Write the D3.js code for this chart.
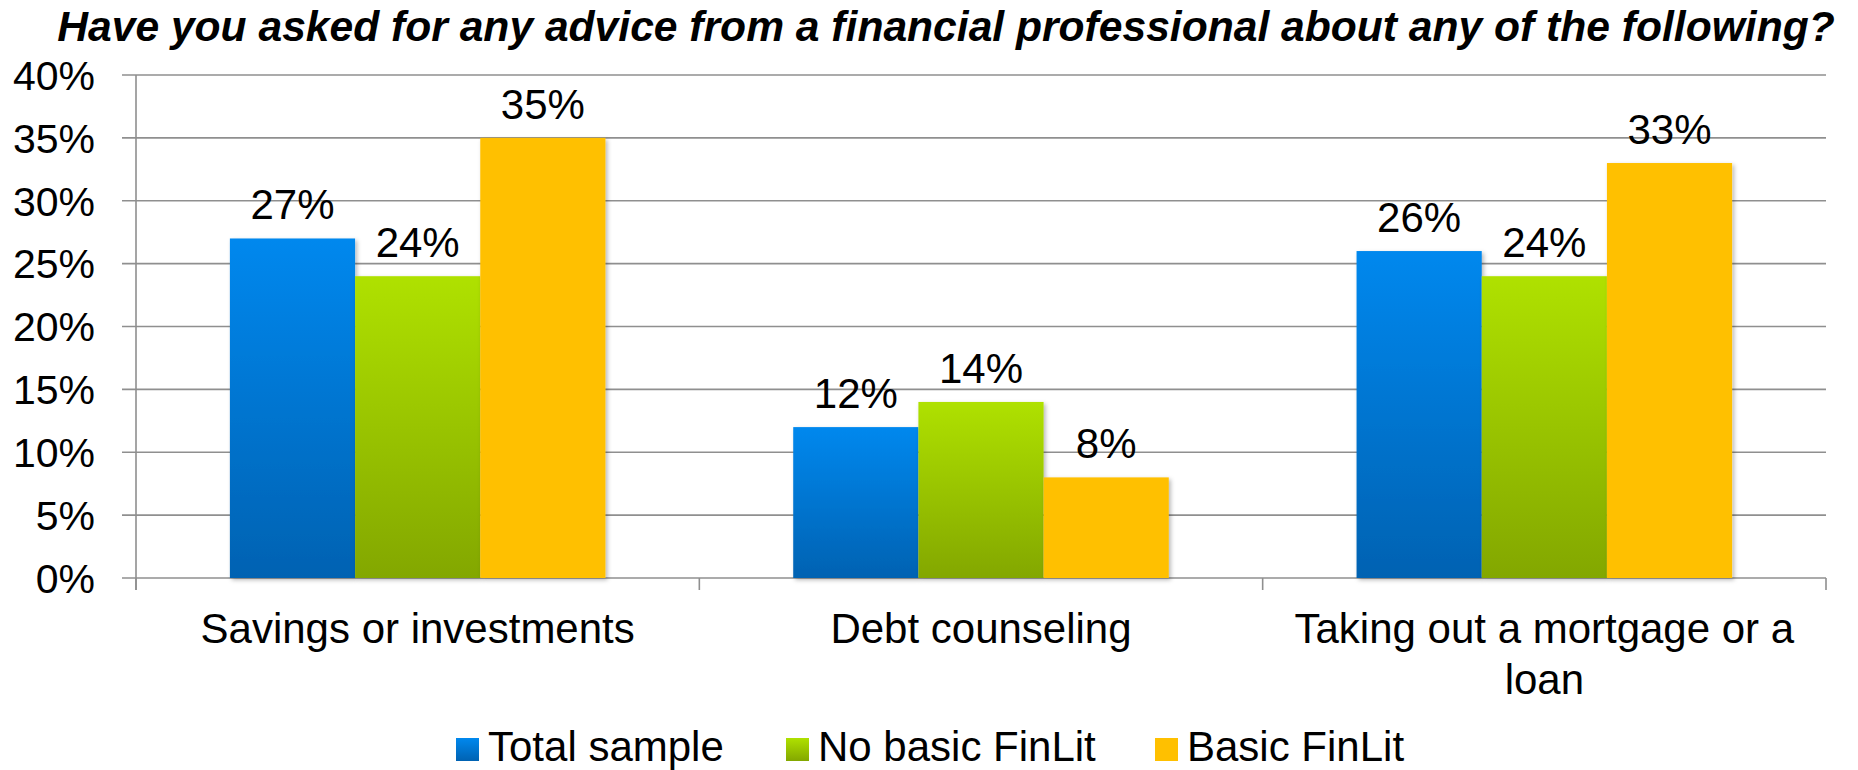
<!DOCTYPE html>
<html>
<head>
<meta charset="utf-8">
<script src="https://cdn.jsdelivr.net/npm/d3@7"></script>
<style>
  html, body { margin: 0; padding: 0; background: #fff; }
  svg { display: block; font-family: "Liberation Sans", Arial, sans-serif; }
</style>
</head>
<body>
<svg id="chart" width="1858" height="770"></svg>
<script>
// Survey answers, share of respondents per group
const categories = ["Savings or investments", "Debt counseling", "Taking out a mortgage or a loan"];
const seriesNames = ["Total sample", "No basic FinLit", "Basic FinLit"];
const totalSample = [0.27, 0.12, 0.26];
const noBasicFinLit = [0.24, 0.14, 0.24];
const basicFinLit = [0.35, 0.08, 0.33];
const yTicks = [0, 0.05, 0.10, 0.15, 0.20, 0.25, 0.30, 0.35, 0.40];
const title = "Have you asked for any advice from a financial professional about any of the following?";

const seriesValues = [totalSample, noBasicFinLit, basicFinLit];

const W = 1858, H = 770;
const plot = { left: 136, right: 1826, top: 75, bottom: 578 };

const svg = d3.select("#chart");
const defs = svg.append("defs");

// Vertical gradients for the first two series, flat fill for the third
function vGrad(id, top, bottom) {
  const g = defs.append("linearGradient").attr("id", id)
    .attr("x1", 0).attr("y1", 0).attr("x2", 0).attr("y2", 1);
  g.append("stop").attr("offset", "0%").attr("stop-color", top);
  g.append("stop").attr("offset", "100%").attr("stop-color", bottom);
}
vGrad("gBlue", "#0088ee", "#0062b2");
vGrad("gGreen", "#afe100", "#83a700");
vGrad("gYellow", "#ffc000", "#ffc000");
const fills = ["url(#gBlue)", "url(#gGreen)", "url(#gYellow)"];

const shadow = defs.append("filter").attr("id", "barShadow")
  .attr("x", "-10%").attr("y", "-10%").attr("width", "130%").attr("height", "130%");
shadow.append("feDropShadow").attr("dx", 2).attr("dy", 2).attr("stdDeviation", 2)
  .attr("flood-color", "#000").attr("flood-opacity", 0.28);

const y = d3.scaleLinear().domain([0, 0.40]).range([plot.bottom, plot.top]);
const x0 = d3.scaleBand().domain(categories).range([plot.left, plot.right]).paddingInner(0).paddingOuter(0);
const x1 = d3.scaleBand().domain(seriesNames).range([0, x0.bandwidth()]).paddingInner(0).paddingOuter(0.75);

const pct = d3.format(".0%");

// Horizontal gridlines (extend left past the axis as tick marks)
svg.append("g").selectAll("line").data(yTicks).join("line")
  .attr("x1", plot.left - 14).attr("x2", plot.right)
  .attr("y1", d => y(d)).attr("y2", d => y(d))
  .attr("stroke", "#8f8f8f").attr("stroke-width", 1.6);

// Y axis line
svg.append("line")
  .attr("x1", plot.left).attr("x2", plot.left)
  .attr("y1", plot.top).attr("y2", plot.bottom + 12)
  .attr("stroke", "#8f8f8f").attr("stroke-width", 1.6);

// Category boundary ticks below the baseline
const boundaries = categories.map(c => x0(c)).concat([plot.right]);
svg.append("g").selectAll("line").data(boundaries).join("line")
  .attr("x1", d => d).attr("x2", d => d)
  .attr("y1", plot.bottom).attr("y2", plot.bottom + 12)
  .attr("stroke", "#8f8f8f").attr("stroke-width", 1.6);

// Y tick labels
svg.append("g").selectAll("text").data(yTicks).join("text")
  .attr("x", 95).attr("y", d => y(d)).attr("dy", "0.36em")
  .attr("text-anchor", "end").attr("font-size", 41).attr("fill", "#000")
  .text(d => pct(d));

// Bars
const groups = svg.append("g").selectAll("g").data(categories).join("g")
  .attr("transform", d => `translate(${x0(d)},0)`);

groups.selectAll("rect")
  .data((c, ci) => seriesNames.map((s, si) => ({ s, si, v: seriesValues[si][ci] })))
  .join("rect")
  .attr("x", d => x1(d.s)).attr("width", x1.bandwidth())
  .attr("y", d => y(d.v)).attr("height", d => y(0) - y(d.v))
  .attr("fill", d => fills[d.si])
  .attr("filter", "url(#barShadow)");

// Value labels above bars
groups.selectAll("text.val")
  .data((c, ci) => seriesNames.map((s, si) => ({ s, si, v: seriesValues[si][ci] })))
  .join("text").attr("class", "val")
  .attr("x", d => x1(d.s) + x1.bandwidth() / 2)
  .attr("y", d => y(d.v) - 19)
  .attr("text-anchor", "middle").attr("font-size", 42).attr("fill", "#000")
  .text(d => pct(d.v));

// Category labels, wrapped to the band width
const catLabels = svg.append("g").selectAll("text").data(categories).join("text")
  .attr("x", d => x0(d) + x0.bandwidth() / 2)
  .attr("y", 643)
  .attr("text-anchor", "middle").attr("font-size", 42).attr("fill", "#000");

catLabels.each(function (d) {
  const t = d3.select(this);
  const cx = x0(d) + x0.bandwidth() / 2;
  const words = d.split(" ");
  let line = [];
  let tspan = t.append("tspan").attr("x", cx).attr("dy", 0);
  for (const w of words) {
    line.push(w);
    tspan.text(line.join(" "));
    if (tspan.node().getComputedTextLength() > 530 && line.length > 1) {
      line.pop();
      tspan.text(line.join(" "));
      line = [w];
      tspan = t.append("tspan").attr("x", cx).attr("dy", 51).text(w);
    }
  }
});

// Legend
const legendX = [456, 786, 1155];
const legend = svg.append("g").selectAll("g").data(seriesNames).join("g")
  .attr("transform", (d, i) => `translate(${legendX[i]},0)`);
legend.append("rect")
  .attr("x", 0).attr("y", 738).attr("width", 23).attr("height", 23)
  .attr("fill", (d, i) => fills[i]);
legend.append("text")
  .attr("x", 32).attr("y", 761)
  .attr("font-size", 42).attr("fill", "#000")
  .text(d => d);

// Title
svg.append("text")
  .attr("x", 946).attr("y", 41)
  .attr("text-anchor", "middle")
  .attr("font-size", 42.6).attr("font-weight", "bold").attr("font-style", "italic")
  .attr("fill", "#000")
  .text(title);
</script>
</body>
</html>
